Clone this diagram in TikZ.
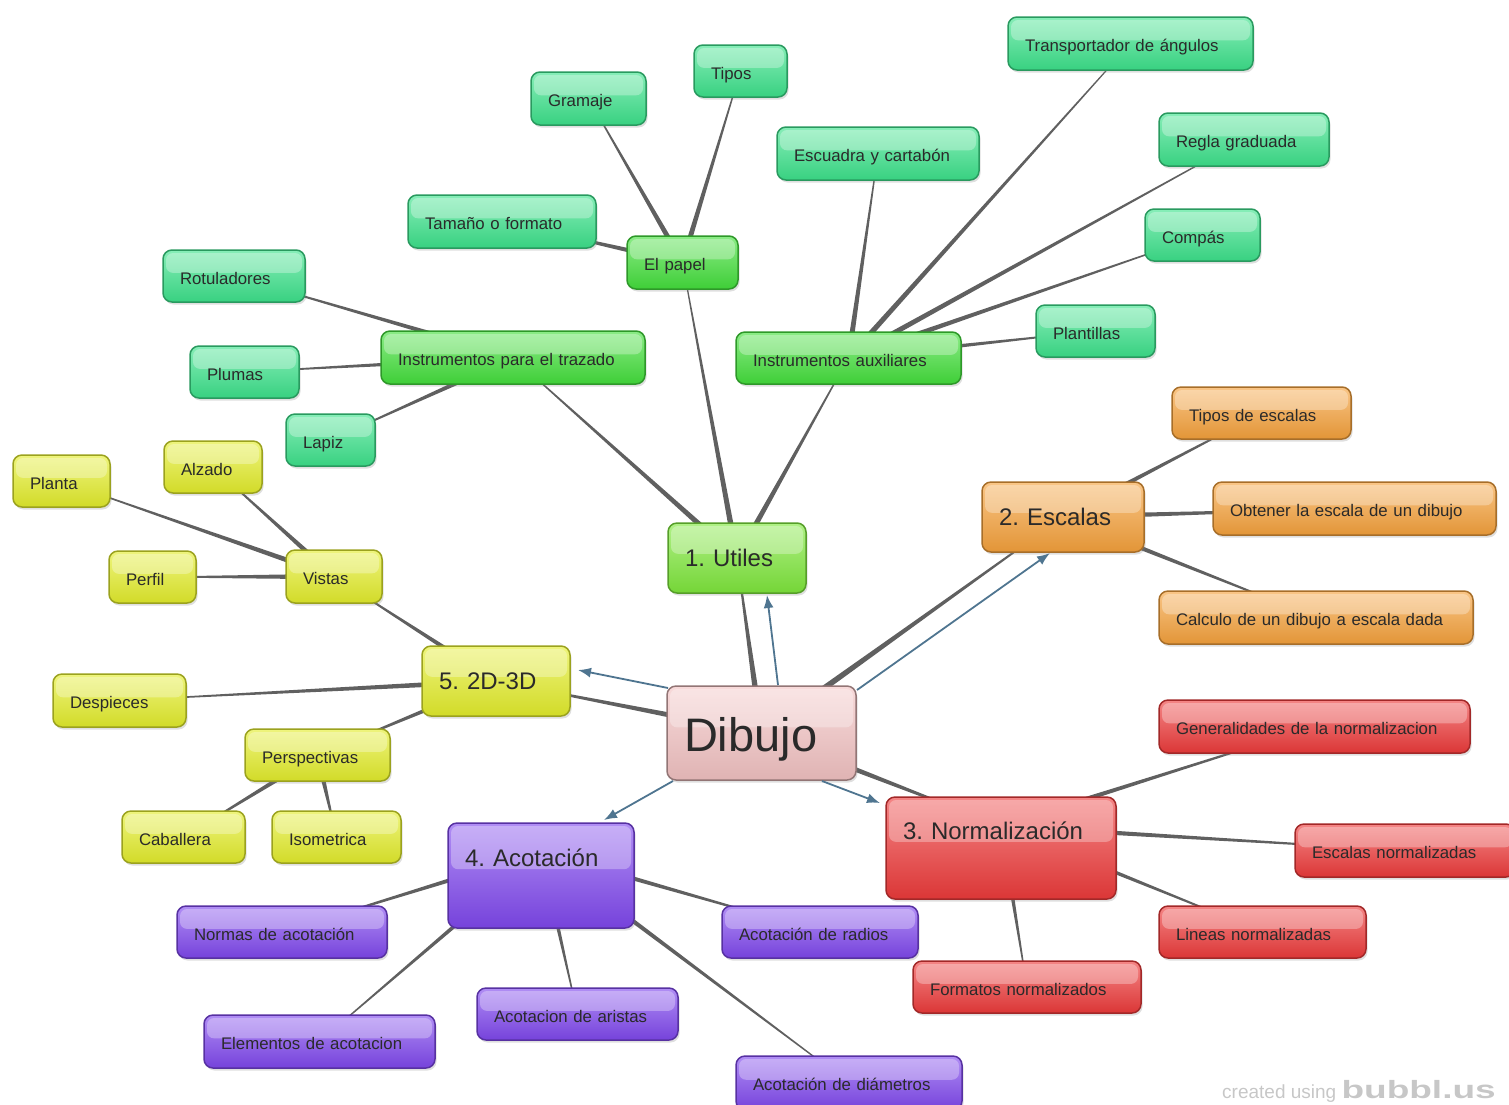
\documentclass[tikz,border=0pt]{standalone}
\usepackage{fontspec}
\setmainfont{Liberation Sans}
\usetikzlibrary{calc,shadows,arrows.meta,backgrounds}
\definecolor{cmint}{HTML}{3DE38C}
\definecolor{cgreen}{HTML}{44E03C}
\definecolor{clime}{HTML}{7FE83C}
\definecolor{corange}{HTML}{F6A23C}
\definecolor{cred}{HTML}{EE3B3B}
\definecolor{cpurple}{HTML}{8048EE}
\definecolor{cyellow}{HTML}{E4EE2C}
\definecolor{cpink}{HTML}{F3C3C3}
\definecolor{txt}{HTML}{2A2A2A}
\definecolor{conncol}{HTML}{606060}
\definecolor{relcol}{HTML}{4F7590}
\newcommand\mn[8]{%
  \pgfmathsetmacro\mnW{#6-#4-34}%
  \pgfmathsetmacro\mnD{#7-#5-#2}%
  \node[#1, text width=\mnW pt, text height=#2pt, text depth=\mnD pt] (#3) at (#4,#5) {\mbox{#8}};}
\newcommand\tp[4]{\fill[conn] ($(#1)!#3!90:(#2)$) -- ($(#2)!#4!-90:(#1)$) -- ($(#2)!#4!90:(#1)$) -- ($(#1)!#3!-90:(#2)$) -- cycle;}
\tikzset{
  box/.style={anchor=north west, rounded corners=9pt, line width=1.5pt,
    draw=#1!68!black, top color=#1!62!white, bottom color=#1!92!black,
    inner xsep=17pt, inner ysep=0pt, outer sep=0pt, align=left, text=txt,
    drop shadow={shadow xshift=1.5pt, shadow yshift=-2.5pt, opacity=.25},
    path picture={\fill[white,opacity=.3,rounded corners=7pt]
      ($(path picture bounding box.north west)+(3,3)$) rectangle
      ($(path picture bounding box.north east)!.44!(path picture bounding box.south east)+(-3,0)$);}},
  sm/.style={box=#1, font=\fontsize{16.8}{20}\selectfont},
  bg/.style={box=#1, font=\fontsize{24}{28}\selectfont},
  conn/.style={fill=conncol},
  rel/.style={draw=relcol, line width=1.8pt, -{Latex[length=13pt,width=10pt]}}
}
\begin{document}
\frenchspacing
\begin{tikzpicture}[x=1pt,y=-1pt]
\useasboundingbox (0,0) rectangle (1509,1104);
% central
\mn{box=cpink, font=\fontsize{47}{52}\selectfont, draw=cpink!60!black}{65}{dibujo}{667}{686}{856}{780}{Dibujo}
% main branches
\mn{bg=clime}{43}{utiles}{668}{523}{806}{593}{1. Utiles}
\mn{bg=corange}{43}{escalas}{982}{482}{1144}{552}{2. Escalas}
\mn{bg=cred}{42}{norm}{886}{797}{1116}{899}{3. Normalización}
\mn{bg=cpurple}{43}{acot}{448}{823}{634}{928}{4. Acotación}
\mn{bg=cyellow}{43}{dd}{422}{646}{570}{716}{5. 2D-3D}
\coordinate (normc) at ([shift={(0,29)}]norm.north);
\coordinate (acotc) at ([shift={(0,29)}]acot.north);
% Utiles
\mn{sm=cgreen}{34}{papel}{627}{236}{738}{289}{El papel}
\mn{sm=cmint}{34}{tamano}{408}{195}{596}{248}{Tamaño o formato}
\mn{sm=cmint}{34}{gramaje}{531}{72}{646}{125}{Gramaje}
\mn{sm=cmint}{34}{tipos}{694}{45}{787}{97}{Tipos}
\mn{sm=cgreen}{34}{trazado}{381}{331}{645}{384}{Instrumentos para el trazado}
\mn{sm=cmint}{34}{rotul}{163}{250}{305}{302}{Rotuladores}
\mn{sm=cmint}{34}{plumas}{190}{346}{299}{398}{Plumas}
\mn{sm=cmint}{34}{lapiz}{286}{414}{375}{466}{Lapiz}
\mn{sm=cgreen}{34}{aux}{736}{332}{961}{384}{Instrumentos auxiliares}
\mn{sm=cmint}{34}{escuadra}{777}{127}{979}{180}{Escuadra y cartabón}
\mn{sm=cmint}{34}{transp}{1008}{17}{1253}{70}{Transportador de ángulos}
\mn{sm=cmint}{34}{regla}{1159}{113}{1329}{166}{Regla graduada}
\mn{sm=cmint}{34}{compas}{1145}{209}{1260}{261}{Compás}
\mn{sm=cmint}{34}{plant}{1036}{305}{1155}{357}{Plantillas}
% Escalas
\mn{sm=corange}{34}{tiposesc}{1172}{387}{1351}{439}{Tipos de escalas}
\mn{sm=corange}{34}{obtener}{1213}{482}{1496}{535}{Obtener la escala de un dibujo}
\mn{sm=corange}{34}{calculo}{1159}{591}{1473}{644}{Calculo de un dibujo a escala dada}
% Normalizacion
\mn{sm=cred}{34}{general}{1159}{700}{1470}{753}{Generalidades de la normalizacion}
\mn{sm=cred}{34}{escnorm}{1295}{824}{1515}{877}{Escalas normalizadas}
\mn{sm=cred}{34}{lineas}{1159}{906}{1366}{958}{Lineas normalizadas}
\mn{sm=cred}{34}{formatos}{913}{961}{1141}{1013}{Formatos normalizados}
% Acotacion
\mn{sm=cpurple}{34}{radios}{722}{906}{918}{958}{Acotación de radios}
\mn{sm=cpurple}{34}{aristas}{477}{988}{678}{1040}{Acotacion de aristas}
\mn{sm=cpurple}{34}{diam}{736}{1056}{962}{1110}{Acotación de diámetros}
\mn{sm=cpurple}{34}{elem}{204}{1015}{435}{1068}{Elementos de acotacion}
\mn{sm=cpurple}{34}{normas}{177}{906}{387}{958}{Normas de acotación}
% 2D-3D
\mn{sm=cyellow}{34}{vistas}{286}{550}{382}{603}{Vistas}
\mn{sm=cyellow}{34}{planta}{13}{455}{110}{507}{Planta}
\mn{sm=cyellow}{34}{alzado}{164}{441}{262}{493}{Alzado}
\mn{sm=cyellow}{34}{perfil}{109}{551}{196}{603}{Perfil}
\mn{sm=cyellow}{34}{despieces}{53}{674}{186}{727}{Despieces}
\mn{sm=cyellow}{34}{persp}{245}{729}{390}{781}{Perspectivas}
\mn{sm=cyellow}{34}{caballera}{122}{811}{245}{863}{Caballera}
\mn{sm=cyellow}{34}{iso}{272}{811}{401}{863}{Isometrica}
% connectors
\begin{scope}[on background layer]
\tp{dibujo}{utiles}{3.5pt}{0.5pt}
\tp{dibujo}{escalas}{3.5pt}{0.5pt}
\tp{dibujo}{normc}{3.5pt}{0.5pt}
\tp{dibujo}{dd}{3.5pt}{0.5pt}
\tp{utiles}{papel}{3pt}{0.4pt}
\tp{utiles}{trazado}{3pt}{0.4pt}
\tp{utiles}{aux}{3pt}{0.4pt}
\tp{papel}{tamano}{2.8pt}{0.4pt}
\tp{papel}{gramaje}{2.8pt}{0.4pt}
\tp{papel}{tipos}{2.8pt}{0.4pt}
\tp{trazado}{rotul}{2.8pt}{0.4pt}
\tp{trazado}{plumas}{2.8pt}{0.4pt}
\tp{trazado}{lapiz}{2.8pt}{0.4pt}
\tp{aux}{escuadra}{2.8pt}{0.4pt}
\tp{aux}{transp}{2.8pt}{0.4pt}
\tp{aux}{regla}{2.8pt}{0.4pt}
\tp{aux}{compas}{2.8pt}{0.4pt}
\tp{aux}{plant}{2.8pt}{0.4pt}
\tp{escalas}{tiposesc}{2.8pt}{0.4pt}
\tp{escalas}{obtener}{2.8pt}{0.4pt}
\tp{escalas}{calculo}{2.8pt}{0.4pt}
\tp{normc}{general}{2.8pt}{0.4pt}
\tp{normc}{escnorm}{2.8pt}{0.4pt}
\tp{normc}{lineas}{2.8pt}{0.4pt}
\tp{normc}{formatos}{2.8pt}{0.4pt}
\tp{acotc}{radios}{2.8pt}{0.4pt}
\tp{acotc}{aristas}{2.8pt}{0.4pt}
\tp{acotc}{diam}{2.8pt}{0.4pt}
\tp{acotc}{elem}{2.8pt}{0.4pt}
\tp{acotc}{normas}{2.8pt}{0.4pt}
\tp{dd}{vistas}{2.8pt}{0.4pt}
\tp{dd}{despieces}{2.8pt}{0.4pt}
\tp{dd}{persp}{2.8pt}{0.4pt}
\tp{vistas}{planta}{2.8pt}{0.4pt}
\tp{vistas}{alzado}{2.8pt}{0.4pt}
\tp{vistas}{perfil}{2.8pt}{0.4pt}
\tp{persp}{caballera}{2.8pt}{0.4pt}
\tp{persp}{iso}{2.8pt}{0.4pt}
\end{scope}
% relation arrows
\draw[rel] ([shift={(1,2)}]dibujo.north west) -- ([shift={(8,24)}]dd.north east);
\draw[rel] ([shift={(111,-1)}]dibujo.north west) -- ([shift={(99,2)}]utiles.south west);
\draw[rel] ([shift={(1,4)}]dibujo.north east) -- ([shift={(68,1)}]escalas.south west);
\draw[rel] ([shift={(-34,1)}]dibujo.south east) -- ([shift={(-6,6)}]norm.north west);
\draw[rel] ([shift={(6,1)}]dibujo.south west) -- ([shift={(156,-3)}]acot.north west);
% watermark
\node[anchor=base west, inner sep=0pt, text=black!22, font=\fontsize{19}{22}\selectfont] (wm) at (1222,1098) {created using \scalebox{1.48}[1]{\fontsize{25}{28}\selectfont\bfseries bubbl.us}};
\end{tikzpicture}
\end{document}
